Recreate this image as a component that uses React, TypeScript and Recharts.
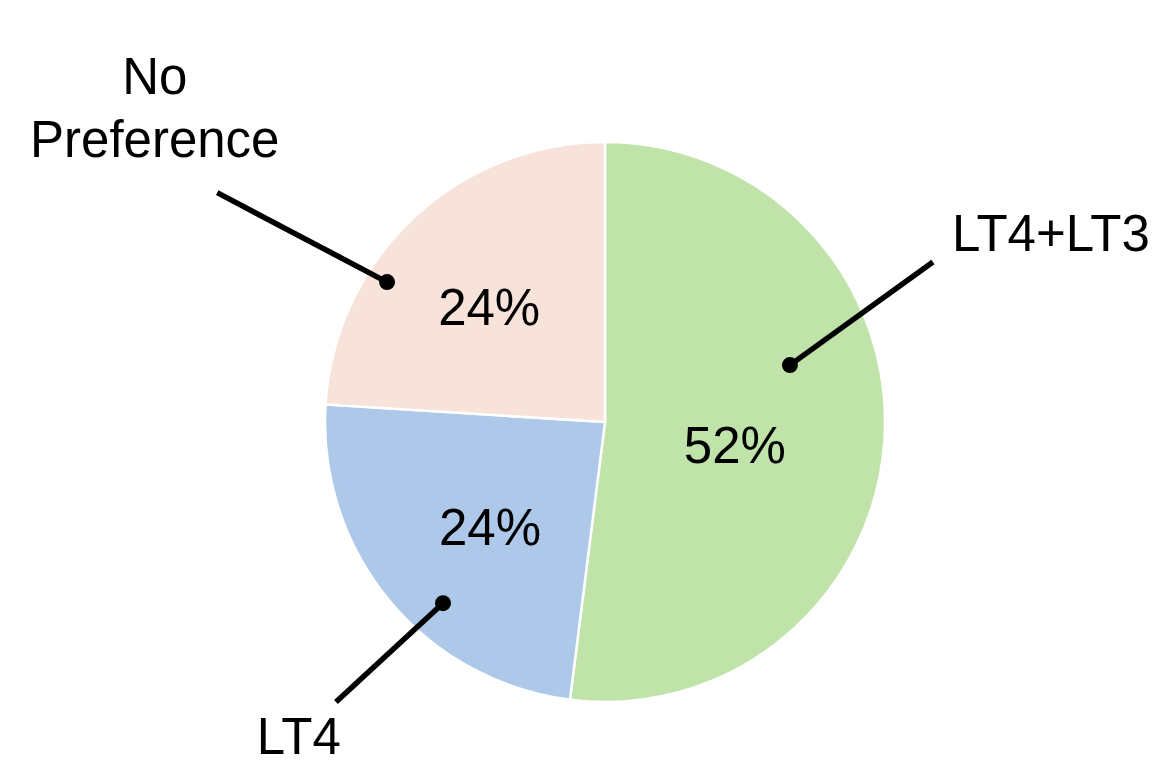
import React from "react";
import { PieChart, Pie, Cell } from "recharts";

const categories = ["LT4+LT3", "LT4", "No Preference"];
const nameLines = [["LT4+LT3"], ["LT4"], ["No", "Preference"]];
const shares = [52, 24, 24];
const colors = ["#c0e3a9", "#adc8e8", "#f7e3d9"];

const data = categories.map((name, i) => ({ name, value: shares[i] }));

// label layout per slice: [radius factor, angle offset from midAngle]
const LAYOUT = [
  { pct: [0.471, -6.4], dot: [0.691, 20.7], end: [1.303, 29.6], name: [1.73, 26.6] },
  { pct: [0.556, 2.8], dot: [0.868, 8.6], end: [1.387, 6.55], name: [1.566, 6.1] },
  { pct: [0.583, 2.0], dot: [0.925, 14.1], end: [1.609, 16.2], name: [1.963, 11.8] },
];

const RAD = Math.PI / 180;
const FONT = "Liberation Sans, Arial, sans-serif";
const FS = 51;

function polar(cx: number, cy: number, r: number, deg: number) {
  return { x: cx + r * Math.cos(-deg * RAD), y: cy + r * Math.sin(-deg * RAD) };
}

function renderLabel(props: any) {
  const { cx, cy, midAngle, outerRadius, index } = props;
  const L = LAYOUT[index];
  const p = polar(cx, cy, outerRadius * L.pct[0], midAngle + L.pct[1]);
  const d = polar(cx, cy, outerRadius * L.dot[0], midAngle + L.dot[1]);
  const e = polar(cx, cy, outerRadius * L.end[0], midAngle + L.end[1]);
  const n = polar(cx, cy, outerRadius * L.name[0], midAngle + L.name[1]);
  const lines = nameLines[index];
  const lh = 63;
  const top = n.y - ((lines.length - 1) * lh) / 2;
  return (
    <g key={`lbl-${index}`}>
      <text
        x={p.x}
        y={p.y + FS * 0.36}
        textAnchor="middle"
        fontFamily={FONT}
        fontSize={FS}
        fill="#000"
      >
        {`${shares[index]}%`}
      </text>
      <line x1={d.x} y1={d.y} x2={e.x} y2={e.y} stroke="#000" strokeWidth={5.5} />
      <circle cx={d.x} cy={d.y} r={8} fill="#000" />
      <text textAnchor="middle" fontFamily={FONT} fontSize={FS} fill="#000">
        {lines.map((ln, k) => (
          <tspan key={k} x={n.x} y={top + k * lh + FS * 0.36}>
            {ln}
          </tspan>
        ))}
      </text>
    </g>
  );
}

export default function App() {
  return (
    <div style={{ position: "absolute", left: 0, top: 0, width: 1176, height: 783, background: "#fff" }}>
      <PieChart width={1176} height={783} margin={{ top: 0, right: 0, bottom: 0, left: 0 }}>
        <Pie
          data={data}
          dataKey="value"
          nameKey="name"
          cx={605}
          cy={422}
          outerRadius={280}
          startAngle={90}
          endAngle={-270}
          stroke="#ffffff"
          strokeWidth={2.5}
          label={renderLabel}
          labelLine={false}
          isAnimationActive={false}
        >
          {data.map((d, i) => (
            <Cell key={d.name} fill={colors[i]} />
          ))}
        </Pie>
      </PieChart>
    </div>
  );
}
